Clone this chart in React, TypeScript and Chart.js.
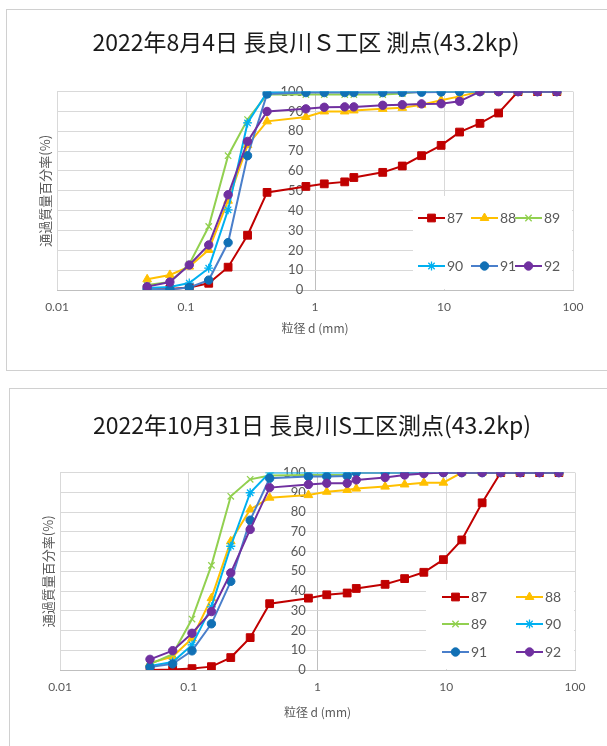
import React, { useEffect, useRef } from 'react';
import { Chart, registerables, PointElement } from 'chart.js';

Chart.register(...registerables);

// ---------- data ----------
const sieveSizes = [0.05, 0.075, 0.106, 0.15, 0.212, 0.3, 0.425, 0.85, 1.18, 1.7, 2, 3.35, 4.75, 6.7, 9.5, 13.2, 19, 26.5, 37.5, 53, 75];
const seriesNames = ['87', '88', '89', '90', '91', '92'];

const aug87 = [0.3, 0.5, 1.3, 3.4, 11.5, 27.6, 49.2, 52.2, 53.5, 54.5, 56.7, 59.3, 62.5, 67.7, 72.9, 79.6, 84, 89.2, 100, 100, 100];
const aug88 = [5.4, 7.6, 11.8, 20.2, 45, 73, 85, 87.2, 90, 90, 90.5, 91.3, 91.8, 93.4, 95.6, 97.6, 100, 100, 100, 100, 100];
const aug89 = [2.5, 4, 13, 32, 67.7, 85.9, 98.5, 98.5, 98.5, 98.5, 98.5, 98.5, 99, 100, 100, 100, 100, 100, 100, 100, 100];
const aug90 = [1, 1.5, 3.5, 11, 40.4, 84.2, 99.7, 100, 100, 100, 100, 100, 100, 100, 100, 100, 100, 100, 100, 100, 100];
const aug91 = [0.3, 0.3, 1.3, 5, 23.9, 67.7, 98.8, 99.5, 99.5, 99.5, 99.5, 99.5, 99.6, 99.7, 99.8, 100, 100, 100, 100, 100, 100];
const aug92 = [1.7, 4, 12.6, 22.7, 48, 74.9, 90, 91.3, 92.1, 92.3, 92.3, 93.1, 93.4, 93.8, 93.9, 95.1, 100, 100, 100, 100, 100];

const oct87 = [0, 0.2, 0.7, 1.7, 6.3, 16.4, 33.6, 36.4, 38.1, 39, 41.3, 43.4, 46.3, 49.5, 55.9, 65.9, 84.7, 100, 100, 100, 100];
const oct88 = [3.5, 6.8, 16, 36.4, 65.2, 81.3, 87.3, 88.6, 90.3, 91.2, 91.9, 92.9, 94, 94.9, 94.9, 100, 100, 100, 100, 100, 100];
const oct89 = [3, 8, 25.8, 53, 88, 96.6, 98.5, 98.8, 98.8, 98.8, 100, 100, 100, 100, 100, 100, 100, 100, 100, 100, 100];
const oct90 = [2, 4, 12.7, 32, 62.7, 89.8, 100, 100, 100, 100, 100, 100, 100, 100, 100, 100, 100, 100, 100, 100, 100];
const oct91 = [1.5, 3.1, 9.7, 23.4, 44.9, 75.9, 97.1, 98, 98, 98.3, 100, 100, 100, 100, 100, 100, 100, 100, 100, 100, 100];
const oct92 = [5.4, 9.8, 18.6, 29.6, 49.2, 71.2, 92.4, 94, 94.6, 94.6, 96.3, 97.5, 98.8, 99.5, 100, 100, 100, 100, 100, 100, 100];

const xTickValues = [0.01, 0.1, 1, 10, 100];
const xTickLabels = ['0.01', '0.1', '1', '10', '100'];
const yAxisCross = 1;

const title1 = '2022年8月4日 長良川Ｓ工区 測点(43.2kp)';
const title2 = '2022年10月31日 長良川S工区測点(43.2kp)';
const xTitle = '粒径 d (mm)';
const yTitle = '通過質量百分率(%)';

// ---------- styles ----------
const seriesStyles = [
  { line: '#C00000', fill: '#C00000', style: 'rect', radius: 5.5 },
  { line: '#FFC000', fill: '#FFC000', style: 'triangle', radius: 5 },
  { line: '#92D050', fill: '#92D050', style: 'crossRot', radius: 4.5 },
  { line: '#00B0F0', fill: '#00B0F0', style: 'star', radius: 4.5 },
  { line: '#4A7FCB', fill: '#1170B5', style: 'circle', radius: 4.2 },
  { line: '#7030A0', fill: '#7030A0', style: 'circle', radius: 4.2 },
];

const LABEL_FONT = "Lato, 'Noto Sans CJK JP', sans-serif";
const CJK_FONT = "'Noto Sans CJK JP', sans-serif";
const GRID = '#D9D9D9';
const AXIS = '#BFBFBF';
const TEXT = '#595959';

const insideLegend = {
  id: 'insideLegend',
  afterDraw(chart: any, _args: any, opts: any) {
    if (!opts || !opts.items) return;
    const { ctx, chartArea } = chart;
    ctx.save();
    ctx.fillStyle = '#FFFFFF';
    ctx.fillRect(opts.box.x, opts.box.y, chartArea.right - 1 - opts.box.x, chartArea.bottom - 1 - opts.box.y);
    opts.items.forEach((it: any, i: number) => {
      const ds = chart.data.datasets[i];
      ctx.strokeStyle = ds.borderColor;
      ctx.lineWidth = 2;
      ctx.beginPath();
      ctx.moveTo(it.x, it.y);
      ctx.lineTo(it.x + opts.lineLength, it.y);
      ctx.stroke();
      const pe: any = new PointElement({
        x: it.x + opts.lineLength / 2,
        y: it.y,
        options: {
          pointStyle: ds.pointStyle,
          radius: ds.pointRadius,
          rotation: 0,
          borderWidth: ds.pointBorderWidth,
          backgroundColor: ds.pointBackgroundColor,
          borderColor: ds.pointBorderColor,
        },
      } as any);
      pe.draw(ctx, chartArea);
      ctx.fillStyle = TEXT;
      ctx.font = `14px ${LABEL_FONT}`;
      ctx.textAlign = 'left';
      ctx.textBaseline = 'middle';
      ctx.fillText(seriesNames[i], it.x + opts.lineLength + 2, it.y + 0.5);
    });
    ctx.restore();
  },
};

function makeConfig(p: any, seriesData: number[][], title: string) {
  const datasets = seriesData.map((vals, i) => {
    const s = seriesStyles[i];
    return {
      label: seriesNames[i],
      data: sieveSizes.map((d, j) => ({ x: d, y: vals[j] })),
      borderColor: s.line,
      backgroundColor: s.fill,
      borderWidth: 2,
      pointStyle: s.style,
      pointRadius: s.radius,
      pointBorderWidth: s.style === 'crossRot' || s.style === 'star' ? 1.3 : 1,
      pointBackgroundColor: s.fill,
      pointBorderColor: s.fill,
      tension: 0,
      order: seriesData.length - i,
    };
  });
  return {
    type: 'line',
    data: { datasets },
    plugins: [insideLegend],
    options: {
      responsive: false,
      animation: false,
      layout: { padding: p.padding },
      plugins: {
        legend: { display: false },
        tooltip: { enabled: false },
        title: {
          display: true,
          text: title,
          color: '#1A1A1A',
          font: { family: CJK_FONT, size: 23, weight: 'normal', lineHeight: 1.2 },
          padding: { top: 0, bottom: p.titleBottom },
        },
        insideLegend: p.legend,
      },
      scales: {
        x: {
          type: 'logarithmic',
          position: 'bottom',
          min: 0.01,
          max: 100,
          afterBuildTicks: (s: any) => {
            s.ticks = xTickValues.map((v) => ({ value: v }));
          },
          afterFit: (s: any) => {
            s.height = p.xHeight;
          },
          ticks: {
            autoSkip: false,
            maxRotation: 0,
            padding: p.xTickPad,
            color: TEXT,
            font: { family: LABEL_FONT, size: 12 },
            callback: (_v: any, i: number) => xTickLabels[i],
          },
          grid: {
            color: (c: any) => (c.tick && c.tick.value === yAxisCross ? AXIS : GRID),
            drawTicks: false,
          },
          border: { color: AXIS },
          title: {
            display: true,
            text: xTitle,
            color: TEXT,
            font: { family: CJK_FONT, size: 12 },
            padding: { top: 0, bottom: p.xTitlePad },
          },
        },
        y: {
          type: 'linear',
          // labels sit a little left of the axis line drawn at x = 1
          position: { x: p.yLabelAt },
          min: 0,
          max: 100,
          ticks: {
            stepSize: 10,
            color: TEXT,
            font: { family: LABEL_FONT, size: 13 },
          },
          grid: { color: GRID, drawTicks: false },
          border: { display: false },
        },
        yt: {
          type: 'linear',
          position: 'left',
          display: true,
          afterFit: (s: any) => {
            s.width = p.ytWidth;
          },
          ticks: { display: false },
          grid: { display: false },
          border: { display: false },
          title: {
            display: true,
            text: yTitle,
            color: TEXT,
            font: { family: CJK_FONT, size: 13 },
            padding: { top: p.yTitlePad, bottom: 0 },
          },
        },
      },
    },
  };
}

const config1 = {
  padding: { left: 39, right: 34, top: 28, bottom: 20 },
  titleBottom: 36,
  xHeight: 60,
  xTickPad: 10,
  xTitlePad: 14,
  ytWidth: 18,
  yTitlePad: -1.5,
  yLabelAt: 0.81,
  legend: {
    box: { x: 413, y: 196 },
    lineLength: 27,
    items: [
      { x: 418, y: 218 }, { x: 471, y: 218 }, { x: 515, y: 218 },
      { x: 418, y: 266 }, { x: 471, y: 266 }, { x: 515, y: 266 },
    ],
  },
};

const config2 = {
  padding: { left: 49, right: 32, top: 31, bottom: 20 },
  titleBottom: 34,
  xHeight: 56,
  xTickPad: 10,
  xTitlePad: 6,
  ytWidth: 11,
  yTitlePad: -8.5,
  yLabelAt: 0.81,
  legend: {
    box: { x: 426, y: 200 },
    lineLength: 27,
    items: [
      { x: 442, y: 217 }, { x: 516, y: 217 },
      { x: 442, y: 244 }, { x: 516, y: 244 },
      { x: 442, y: 272 }, { x: 516, y: 272 },
    ],
  },
};

function ChartCanvas(props: { cfg: any; data: number[][]; title: string; top: number; height: number }) {
  const ref = useRef<HTMLCanvasElement>(null);
  useEffect(() => {
    if (!ref.current) return;
    const chart = new Chart(ref.current, makeConfig(props.cfg, props.data, props.title) as any);
    return () => chart.destroy();
  }, []);
  return (
    <canvas
      ref={ref}
      width={607}
      height={props.height}
      style={{ position: 'absolute', left: 0, top: props.top, width: 607, height: props.height }}
    />
  );
}

export default function App() {
  return (
    <div style={{ position: 'absolute', left: 0, top: 0, width: 607, height: 746, overflow: 'hidden', background: '#FFFFFF' }}>
      <div style={{ position: 'absolute', left: 6, top: 9, width: 640, height: 360, border: '1px solid #D0D0D0' }} />
      <div style={{ position: 'absolute', left: 9, top: 388, width: 640, height: 400, border: '1px solid #D0D0D0' }} />
      <ChartCanvas cfg={config1} data={[aug87, aug88, aug89, aug90, aug91, aug92]} title={title1} top={0} height={370} />
      <ChartCanvas cfg={config2} data={[oct87, oct88, oct89, oct90, oct91, oct92]} title={title2} top={380} height={366} />
    </div>
  );
}
